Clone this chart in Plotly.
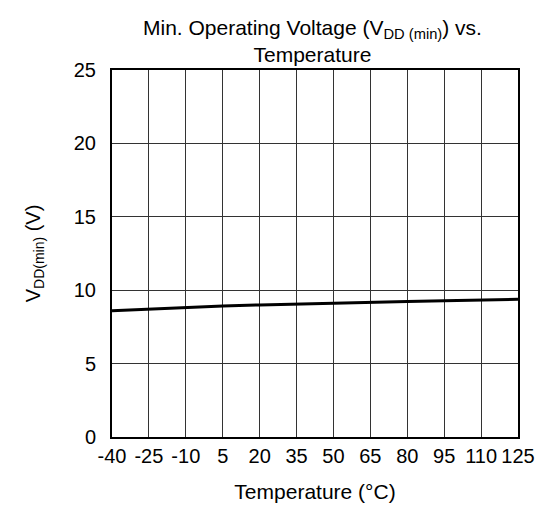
import plotly.graph_objects as go

temperature_c = [-40, -25, -10, 5, 20, 35, 50, 65, 80, 95, 110, 125]
vdd_min_v = [8.6, 8.72, 8.83, 8.92, 9.0, 9.07, 9.13, 9.18, 9.23, 9.28, 9.33, 9.38]
x_ticks = [-40, -25, -10, 5, 20, 35, 50, 65, 80, 95, 110, 125]
y_ticks = [0, 5, 10, 15, 20, 25]

FONT = "Liberation Sans, Arial, sans-serif"

fig = go.Figure()
fig.add_trace(go.Scatter(
    x=temperature_c, y=vdd_min_v, mode="lines",
    line=dict(color="black", width=3), showlegend=False,
))

W, H = 549, 504
fig.update_layout(
    width=W, height=H,
    margin=dict(l=104, r=39, t=62, b=72),
    paper_bgcolor="white", plot_bgcolor="white",
    font=dict(family=FONT, color="black", size=20),
    annotations=[dict(
        text="Min. Operating Voltage (V<sub>DD (min)</sub>) vs.<br>Temperature",
        xref="paper", x=0.495, xanchor="center",
        yref="paper", y=1, yanchor="bottom", yshift=2,
        showarrow=False, align="center",
        font=dict(size=21, family=FONT, color="black"),
    )],
)

fig.update_xaxes(
    range=[-40, 125], tickvals=x_ticks, ticktext=[str(v) for v in x_ticks],
    showgrid=True, gridcolor="#333333", gridwidth=1,
    showline=True, linecolor="black", linewidth=2, mirror=True,
    zeroline=False, ticks="", tickfont=dict(size=20),
    title=dict(text="Temperature (°C)", font=dict(size=21), standoff=18),
)
fig.update_yaxes(
    range=[0, 25], tickvals=y_ticks,
    showgrid=True, gridcolor="#333333", gridwidth=1,
    showline=True, linecolor="black", linewidth=2, mirror=True,
    zeroline=False, ticks="outside", ticklen=10, tickcolor="rgba(0,0,0,0)",
    tickfont=dict(size=20),
    title=dict(text="V<sub>DD(min)</sub> (V)", font=dict(size=20), standoff=28),
)

fig.write_html("out.html")
